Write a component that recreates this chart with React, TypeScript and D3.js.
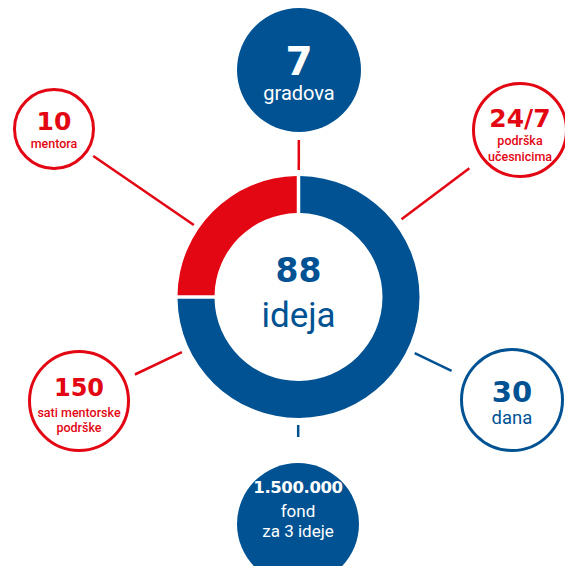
import React from "react";
import * as d3 from "d3";

// ---- data ----
const segmentNames = ["ostalo", "mentorstvo"];
const segmentValues = [75, 25];
const centerValue = "88";
const centerLabel = "ideja";

const statValues = ["7", "24/7", "30", "1.500.000", "150", "10"];
const statLabels = [
  ["gradova"],
  ["podrška", "učesnicima"],
  ["dana"],
  ["fond", "za 3 ideje"],
  ["sati mentorske", "podrške"],
  ["mentora"],
];

// ---- layout & style ----
const W = 565;
const H = 566;
const CX = 298.5;
const CY = 297;
const R_OUT = 121;
const R_IN = 84;
const BLUE = "#005293";
const RED = "#E30613";
const segmentColors = [BLUE, RED];

type Sat = {
  cx: number; cy: number; r: number;
  fill: boolean; color: string;
  lineColor: string; l0: number; l1: number;
  numSize: number; numDy: number; numSpacing: number;
  labSize: number; labDy: number[]; labWeight: number;
};

const satLayout: Sat[] = [
  { cx: 299, cy: 70, r: 62, fill: true, color: BLUE, lineColor: RED, l0: 127, l1: 157, numSize: 39, numDy: 5, numSpacing: 0, labSize: 20, labDy: [30], labWeight: 400 },
  { cx: 520, cy: 130, r: 48, fill: false, color: RED, lineColor: RED, l0: 129, l1: 214, numSize: 25, numDy: -3, numSpacing: 0, labSize: 12.5, labDy: [15, 31], labWeight: 500 },
  { cx: 512, cy: 400, r: 52, fill: false, color: BLUE, lineColor: BLUE, l0: 129, l1: 170, numSize: 29, numDy: 2, numSpacing: 0, labSize: 18.5, labDy: [24], labWeight: 400 },
  { cx: 298, cy: 524, r: 61, fill: true, color: BLUE, lineColor: BLUE, l0: 128, l1: 140, numSize: 16.5, numDy: -31, numSpacing: -0.4, labSize: 17, labDy: [-7, 13], labWeight: 400 },
  { cx: 79, cy: 401, r: 51, fill: false, color: RED, lineColor: RED, l0: 129, l1: 181, numSize: 24, numDy: -5, numSpacing: 0, labSize: 12.5, labDy: [16, 31], labWeight: 500 },
  { cx: 54, cy: 129, r: 41, fill: false, color: RED, lineColor: RED, l0: 127, l1: 249, numSize: 25, numDy: 1, numSpacing: 0, labSize: 12.5, labDy: [19], labWeight: 500 },
];

const NUM_FONT = "'DejaVu Sans', sans-serif";
const LAB_FONT = "Roboto, sans-serif";

export default function App() {
  const pie = d3.pie<number>().sort(null).value((d) => d);
  const arcs = pie(segmentValues);
  const arc = d3
    .arc<d3.PieArcDatum<number>>()
    .innerRadius(R_IN)
    .outerRadius(R_OUT)
    .padAngle(0.035)
    .padRadius(100);

  return (
    <svg
      width={W}
      height={H}
      style={{ position: "absolute", left: 0, top: 0, background: "#fff" }}
    >
      {/* connectors */}
      {satLayout.map((s, i) => {
        const a = Math.atan2(s.cy - CY, s.cx - CX);
        const x0 = CX + Math.cos(a) * s.l0;
        const y0 = CY + Math.sin(a) * s.l0;
        const x1 = CX + Math.cos(a) * s.l1;
        const y1 = CY + Math.sin(a) * s.l1;
        return (
          <line key={"l" + i} x1={x0} y1={y0} x2={x1} y2={y1} stroke={s.lineColor} strokeWidth={2.5} />
        );
      })}

      {/* donut */}
      <g transform={`translate(${CX},${CY})`}>
        {arcs.map((d, i) => (
          <path key={segmentNames[i]} d={arc(d) || ""} fill={segmentColors[i]} />
        ))}
        <text
          x={0}
          y={-15}
          textAnchor="middle"
          fontFamily={NUM_FONT}
          fontWeight={700}
          fontSize={33}
          fill={BLUE}
        >
          {centerValue}
        </text>
        <text
          x={0}
          y={30}
          textAnchor="middle"
          fontFamily={LAB_FONT}
          fontWeight={400}
          fontSize={35}
          fill={BLUE}
        >
          {centerLabel}
        </text>
      </g>

      {/* satellites */}
      {satLayout.map((s, i) => {
        const txt = s.fill ? "#fff" : s.color;
        return (
          <g key={"s" + i}>
            <circle
              cx={s.cx}
              cy={s.cy}
              r={s.fill ? s.r : s.r - 1.5}
              fill={s.fill ? s.color : "#fff"}
              stroke={s.fill ? "none" : s.color}
              strokeWidth={3}
            />
            <text
              x={s.cx}
              y={s.cy + s.numDy}
              textAnchor="middle"
              fontFamily={NUM_FONT}
              fontWeight={700}
              fontSize={s.numSize}
              letterSpacing={s.numSpacing}
              fill={txt}
            >
              {statValues[i]}
            </text>
            {statLabels[i].map((lab, j) => (
              <text
                key={j}
                x={s.cx}
                y={s.cy + s.labDy[j]}
                textAnchor="middle"
                fontFamily={LAB_FONT}
                fontWeight={s.labWeight}
                fontSize={s.labSize}
                fill={txt}
              >
                {lab}
              </text>
            ))}
          </g>
        );
      })}
    </svg>
  );
}
